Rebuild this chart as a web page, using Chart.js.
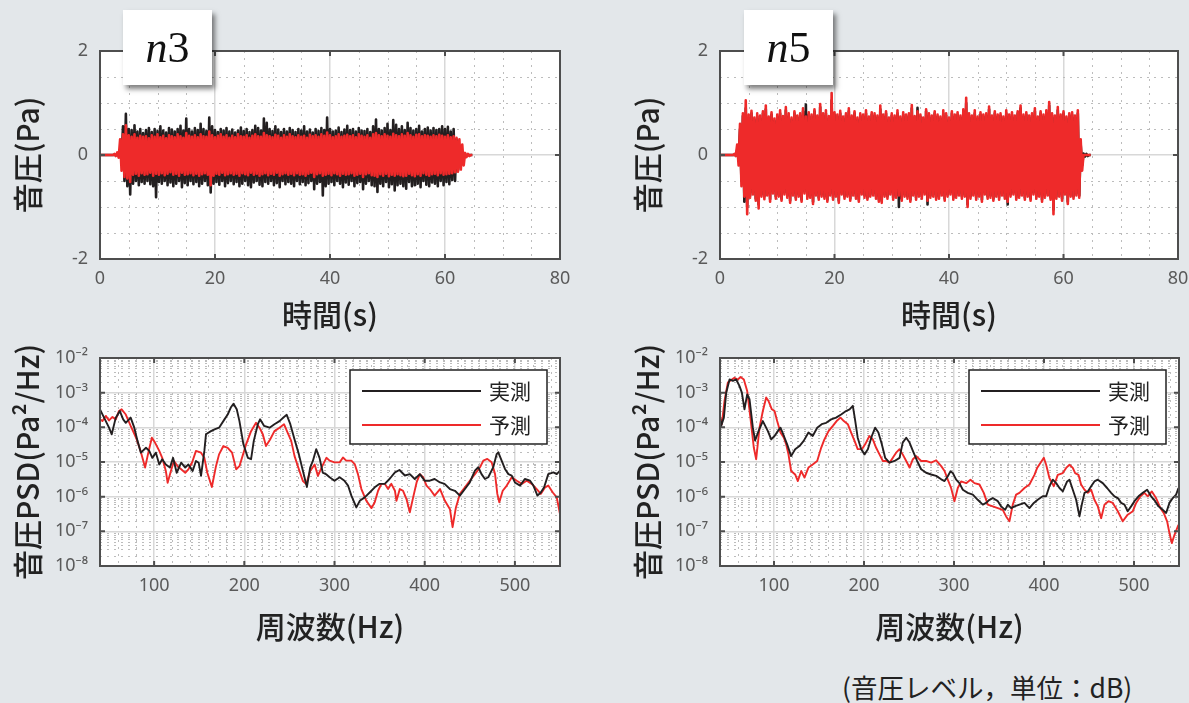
<!DOCTYPE html>
<html lang="ja">
<head>
<meta charset="utf-8">
<script src="https://cdn.jsdelivr.net/npm/chart.js@4.4.1/dist/chart.umd.min.js"></script>
<style>
  body { margin: 0; width: 1189px; height: 703px; background: #e3e7ea; position: relative; overflow: hidden; font-family: 'Noto Sans CJK JP', sans-serif; }
  canvas { position: absolute; }
  .tag { position: absolute; top: 10px; width: 89px; height: 75px; background: #fff; box-shadow: 3px 4px 5px rgba(0,0,0,0.5); font: 44px 'Liberation Serif', serif; text-align: center; line-height: 75px; color: #111; }
  .note { position: absolute; left: 842px; top: 667px; font-size: 26.5px; color: #222; }
</style>
</head>
<body>
<canvas id="waveN3" width="590" height="345" style="left:0;top:0"></canvas>
<canvas id="waveN5" width="580" height="345" style="left:620px;top:0"></canvas>
<canvas id="psdN3" width="590" height="316" style="left:0;top:334px"></canvas>
<canvas id="psdN5" width="569" height="316" style="left:620px;top:334px"></canvas>
<div class="tag" style="left:123px"><i>n</i>3</div>
<div class="tag" style="left:744px"><i>n</i>5</div>
<div class="note">(音圧レベル，単位：dB)</div>
<script>
// envelope of the pressure trace (upper / lower peaks), one value every DT seconds starting at T0
const T0 = 0, DT = 0.5;

const n3MeasUpper = [0,0,0,0,0,0,
  0,0.1,0.55,0.79,0.5,0.48,0.57,0.45,0.5,0.42,
  0.48,0.52,0.44,0.5,0.46,0.55,0.47,0.43,0.52,0.49,
  0.45,0.5,0.56,0.47,0.7,0.5,0.45,0.52,0.48,0.6,
  0.5,0.46,0.72,0.55,0.48,0.44,0.5,0.47,0.52,0.45,
  0.49,0.43,0.47,0.53,0.46,0.5,0.44,0.48,0.56,0.52,
  0.47,0.7,0.62,0.5,0.46,0.55,0.49,0.44,0.5,0.45,
  0.52,0.48,0.44,0.5,0.47,0.55,0.45,0.49,0.43,0.5,
  0.46,0.52,0.48,0.72,0.5,0.45,0.47,0.53,0.44,0.49,
  0.56,0.48,0.5,0.45,0.52,0.47,0.46,0.5,0.44,0.55,
  0.68,0.5,0.47,0.52,0.6,0.48,0.67,0.58,0.5,0.55,
  0.48,0.62,0.52,0.47,0.5,0.56,0.45,0.5,0.53,0.47,
  0.52,0.48,0.5,0.55,0.5,0.54,0.45,0.5,0.3,0,
  0,0,0,0];
const n3MeasLower = [0,0,0,0,0,0,
  0,-0.1,-0.5,-0.6,-0.76,-0.55,-0.5,-0.58,-0.52,-0.55,
  -0.5,-0.56,-0.6,-0.81,-0.52,-0.55,-0.5,-0.58,-0.53,-0.6,
  -0.55,-0.5,-0.62,-0.54,-0.58,-0.5,-0.56,-0.52,-0.6,-0.55,
  -0.5,-0.58,-0.72,-0.55,-0.52,-0.57,-0.5,-0.6,-0.54,-0.5,
  -0.56,-0.52,-0.6,-0.55,-0.5,-0.58,-0.62,-0.53,-0.5,-0.57,
  -0.6,-0.52,-0.55,-0.5,-0.58,-0.54,-0.62,-0.5,-0.56,-0.52,
  -0.55,-0.6,-0.5,-0.56,-0.52,-0.58,-0.54,-0.5,-0.66,-0.55,
  -0.52,-0.78,-0.6,-0.55,-0.52,-0.58,-0.5,-0.55,-0.62,-0.53,
  -0.57,-0.5,-0.6,-0.54,-0.52,-0.66,-0.55,-0.5,-0.58,-0.6,
  -0.71,-0.55,-0.6,-0.52,-0.62,-0.56,-0.68,-0.58,-0.55,-0.6,
  -0.65,-0.52,-0.6,-0.58,-0.55,-0.62,-0.5,-0.57,-0.6,-0.53,
  -0.55,-0.6,-0.5,-0.58,-0.52,-0.56,-0.48,-0.5,-0.3,0,
  0,0,0,0];
const n3PredUpper = [0,0,0,0,0,0.02,
  0.05,0.3,0.4,0.57,0.38,0.35,0.4,0.33,0.37,0.35,
  0.36,0.32,0.38,0.35,0.4,0.34,0.37,0.32,0.38,0.36,
  0.34,0.4,0.36,0.33,0.42,0.37,0.35,0.38,0.34,0.4,
  0.36,0.35,0.45,0.38,0.34,0.37,0.4,0.35,0.38,0.33,
  0.37,0.34,0.4,0.36,0.35,0.38,0.33,0.37,0.4,0.36,
  0.35,0.42,0.38,0.36,0.34,0.39,0.37,0.33,0.38,0.35,
  0.4,0.36,0.34,0.38,0.35,0.37,0.33,0.39,0.36,0.38,
  0.35,0.4,0.37,0.43,0.38,0.34,0.36,0.4,0.35,0.37,
  0.39,0.36,0.38,0.34,0.4,0.37,0.35,0.38,0.33,0.4,
  0.42,0.38,0.36,0.4,0.37,0.35,0.41,0.38,0.36,0.4,
  0.37,0.42,0.38,0.35,0.39,0.4,0.36,0.38,0.37,0.35,
  0.38,0.36,0.39,0.37,0.35,0.38,0.34,0.36,0.33,0.3,
  0.2,0.04,0.02,0];
const n3PredLower = [0,0,0,0,0,-0.02,
  -0.05,-0.3,-0.42,-0.45,-0.52,-0.38,-0.36,-0.4,-0.35,-0.38,
  -0.37,-0.34,-0.4,-0.36,-0.38,-0.35,-0.39,-0.36,-0.33,-0.38,
  -0.36,-0.4,-0.34,-0.38,-0.37,-0.35,-0.39,-0.36,-0.4,-0.37,
  -0.35,-0.38,-0.58,-0.4,-0.36,-0.38,-0.34,-0.39,-0.37,-0.35,
  -0.38,-0.36,-0.4,-0.35,-0.37,-0.39,-0.34,-0.38,-0.36,-0.4,
  -0.37,-0.35,-0.39,-0.36,-0.38,-0.34,-0.4,-0.37,-0.35,-0.38,
  -0.36,-0.39,-0.35,-0.38,-0.37,-0.4,-0.36,-0.34,-0.42,-0.37,
  -0.35,-0.4,-0.38,-0.36,-0.39,-0.35,-0.37,-0.4,-0.36,-0.38,
  -0.37,-0.35,-0.4,-0.38,-0.36,-0.42,-0.37,-0.35,-0.39,-0.4,
  -0.42,-0.37,-0.4,-0.36,-0.41,-0.38,-0.4,-0.37,-0.39,-0.41,
  -0.4,-0.36,-0.39,-0.41,-0.37,-0.4,-0.35,-0.38,-0.4,-0.37,
  -0.36,-0.39,-0.35,-0.38,-0.37,-0.36,-0.35,-0.33,-0.32,-0.28,
  -0.2,-0.04,-0.02,0];

const n5MeasUpper = [0,0,0,0,0,0,
  0.1,0.5,0.75,0.9,0.7,0.8,0.68,0.74,0.7,0.8,
  0.88,0.7,0.78,0.66,0.74,0.8,0.7,0.86,0.74,0.68,
  0.8,0.72,0.76,0.84,0.97,0.78,0.74,0.84,0.72,0.92,
  0.76,0.8,0.7,1.05,0.78,0.74,0.8,0.7,0.76,0.84,
  0.72,0.8,0.68,0.76,0.74,0.8,0.7,0.78,0.76,0.72,
  0.88,0.74,0.8,0.68,0.76,0.72,0.8,0.7,0.78,0.74,
  0.76,0.9,0.72,0.91,0.74,0.68,0.84,0.76,0.72,0.8,
  0.74,0.7,0.8,0.76,0.68,0.8,0.74,0.78,0.72,0.84,
  1.0,0.76,0.72,0.8,0.7,0.78,0.74,0.76,0.88,0.72,
  0.8,0.74,0.76,0.7,0.8,0.74,0.78,0.72,0.8,0.9,
  0.74,0.78,0.72,0.76,0.84,0.7,0.8,0.74,0.8,0.95,
  0.76,0.72,0.86,0.74,0.8,0.7,0.76,0.78,0.72,0.8,
  0.2,0.03,0.02,0];
const n5MeasLower = [0,0,0,0,0,0,
  -0.1,-0.5,-0.9,-1.0,-0.78,-0.72,-0.84,-0.95,-0.76,-0.8,
  -0.74,-0.85,-0.7,-0.8,-0.76,-0.84,-0.72,-0.78,-0.88,-0.74,
  -0.82,-0.76,-0.86,-0.7,-0.8,-0.78,-0.9,-0.74,-0.82,-0.76,
  -0.8,-0.86,-0.74,-0.82,-0.76,-0.88,-0.72,-0.8,-0.76,-0.84,
  -0.74,-0.8,-0.86,-0.72,-0.78,-0.82,-0.76,-0.74,-0.8,-0.86,
  -0.88,-0.76,-0.8,-0.72,-0.82,-0.78,-1.0,-0.84,-0.76,-0.8,
  -0.86,-0.74,-0.82,-0.76,-0.8,-0.72,-0.95,-0.78,-0.76,-0.82,
  -0.8,-0.74,-0.84,-0.76,-0.72,-0.82,-0.78,-0.74,-0.8,-0.76,
  -0.95,-0.8,-0.74,-0.82,-0.76,-0.86,-0.72,-0.8,-0.78,-0.84,
  -0.76,-0.82,-0.74,-0.8,-0.95,-0.76,-0.72,-0.82,-0.78,-0.74,
  -0.82,-0.76,-0.84,-0.72,-0.8,-0.76,-0.86,-0.78,-0.74,-0.82,
  -1.05,-0.8,-0.76,-0.84,-0.72,-0.9,-0.76,-0.8,-0.74,-0.78,
  -0.2,-0.03,-0.02,0];
const n5PredUpper = [0,0,0,0,0,0.02,
  0.2,0.6,0.8,1.05,0.78,0.85,0.72,0.8,0.76,0.84,
  0.95,0.74,0.82,0.7,0.78,0.86,0.75,0.92,0.8,0.72,
  0.84,0.76,0.8,0.9,0.74,0.82,0.78,0.88,0.76,0.98,
  0.8,0.86,0.75,1.19,0.82,0.78,0.85,0.74,0.8,0.9,
  0.76,0.84,0.72,0.8,0.78,0.86,0.74,0.82,0.8,0.76,
  0.95,0.78,0.84,0.72,0.8,0.76,0.86,0.74,0.82,0.78,
  0.8,0.96,0.75,0.84,0.78,0.72,0.88,0.8,0.76,0.84,
  0.78,0.74,0.86,0.8,0.72,0.84,0.78,0.82,0.76,0.88,
  1.1,0.8,0.76,0.86,0.74,0.82,0.78,0.8,0.93,0.76,
  0.84,0.78,0.8,0.74,0.86,0.78,0.82,0.76,0.84,0.95,
  0.78,0.82,0.76,0.8,0.9,0.74,0.84,0.78,0.86,1.02,
  0.8,0.76,0.92,0.78,0.84,0.74,0.8,0.82,0.76,0.86,
  0.3,0,0,0];
const n5PredLower = [0,0,0,0,0,-0.02,
  -0.2,-0.6,-0.8,-1.14,-0.82,-0.76,-0.88,-1.03,-0.8,-0.85,
  -0.78,-0.9,-0.74,-0.84,-0.8,-0.88,-0.76,-0.82,-0.92,-0.78,
  -0.86,-0.8,-0.9,-0.74,-0.84,-0.82,-0.94,-0.78,-0.86,-0.8,
  -0.84,-0.9,-0.78,-0.86,-0.8,-0.92,-0.76,-0.84,-0.8,-0.88,
  -0.78,-0.84,-0.9,-0.76,-0.82,-0.86,-0.8,-0.78,-0.84,-0.9,
  -0.92,-0.8,-0.84,-0.76,-0.86,-0.82,-0.78,-0.88,-0.8,-0.84,
  -0.9,-0.78,-0.86,-0.8,-0.84,-0.76,-0.88,-0.82,-0.8,-0.86,
  -0.84,-0.78,-0.88,-0.8,-0.76,-0.86,-0.82,-0.78,-0.84,-0.8,
  -1.0,-0.84,-0.78,-0.86,-0.8,-0.9,-0.76,-0.84,-0.82,-0.88,
  -0.8,-0.86,-0.78,-0.84,-0.9,-0.8,-0.76,-0.86,-0.82,-0.78,
  -0.86,-0.8,-0.88,-0.76,-0.84,-0.8,-0.9,-0.82,-0.78,-0.86,
  -1.14,-0.84,-0.8,-0.88,-0.76,-0.94,-0.8,-0.84,-0.78,-0.82,
  -0.3,0,0,0];

// PSD curves: [frequency Hz, log10 PSD (Pa^2/Hz)]
const n3PsdMeas = [[40,-3.48],[44.5,-3.72],[50,-4.01],[53,-4.2],[57.5,-3.72],[62,-3.53],[65.7,-3.77],[68.6,-3.87],[74,-3.72],[78,-4.01],
  [81.6,-4.39],[85.3,-4.73],[91,-4.59],[94.6,-4.68],[98,-4.88],[102,-4.73],[105.7,-5.07],[109,-4.92],[113,-5.07],[117.5,-5.16],
  [121,-4.88],[125,-5.31],[130,-5.02],[134.5,-5.16],[138,-5.07],[142.7,-5.26],[146.4,-4.97],[149.4,-5.02],[152,-5.4],[155.7,-4.68],
  [157.5,-4.2],[163,-4.11],[167,-4.06],[172,-4.01],[178,-3.77],[181.6,-3.63],[185,-3.43],[188,-3.32],[191.6,-3.48],[194.6,-3.82],
  [199,-4.49],[204,-4.88],[207.5,-4.92],[210.5,-4.39],[215,-3.91],[217.5,-3.77],[222,-3.96],[228,-4.01],[233.4,-3.91],[239,-3.82],
  [244,-3.7],[247,-3.64],[251,-3.91],[255.7,-4.35],[260.5,-4.78],[265,-5.26],[269.4,-5.72],[273,-5.16],[276,-4.97],[279.7,-4.63],
  [283.4,-4.88],[287,-5.31],[291,-5.36],[294.6,-5.44],[300,-5.54],[305.7,-5.44],[311,-5.54],[315,-5.68],[318.7,-5.97],[324.2,-6.31],
  [328,-6.12],[333.5,-6.02],[339,-5.88],[344.6,-5.73],[350,-5.63],[355.7,-5.63],[361,-5.49],[367,-5.3],[372,-5.23],[378,-5.39],
  [383.5,-5.35],[389,-5.49],[394.6,-5.35],[400,-5.54],[405.7,-5.54],[411,-5.49],[417,-5.59],[422,-5.63],[428,-5.78],[433.5,-5.83],
  [439,-5.97],[444.6,-5.78],[450,-5.59],[455.7,-5.25],[459.4,-5.15],[463,-5.35],[466.8,-5.49],[470.5,-5.44],[476,-5.15],[479.8,-4.77],
  [481.6,-4.72],[485.3,-4.96],[489,-5.2],[492.8,-5.35],[496.5,-5.39],[500,-5.59],[505.7,-5.68],[511,-5.49],[516.8,-5.54],[520.5,-5.68],
  [525,-5.97],[528.7,-5.88],[532.4,-5.73],[537,-5.35],[542.7,-5.3],[546.4,-5.35],[550,-5.25]];
const n3PsdPred = [[40,-3.77],[42.7,-3.82],[46.4,-3.67],[50,-3.8],[53.8,-3.7],[57.5,-3.77],[61,-3.53],[64,-3.48],[68.6,-3.63],[74,-3.96],
  [80,-4.3],[85,-4.68],[90,-5.16],[94,-4.68],[97.5,-4.3],[101,-4.44],[105.7,-4.68],[109,-4.88],[113,-5.26],[115,-5.6],
  [118.6,-5.26],[122,-4.97],[126,-5.12],[130,-5.21],[134.5,-5.31],[138,-5.21],[142,-5.02],[146.4,-4.68],[152,-4.73],[155.7,-4.88],
  [159,-5.31],[164,-5.72],[168.6,-5.12],[172,-4.78],[176.8,-4.54],[181.6,-4.59],[186.4,-4.73],[191,-5.21],[194.6,-5.12],[198,-4.83],
  [202,-4.49],[207.5,-4.11],[213,-3.87],[216.8,-4.01],[220.5,-4.2],[224,-4.54],[228.6,-4.35],[233.4,-4.11],[239,-4.01],[244,-3.91],
  [248,-4.15],[252,-4.39],[255.7,-4.83],[260.5,-5.21],[265,-5.55],[268.6,-5.64],[273,-5.26],[278,-5.07],[281.6,-5.4],[286.4,-5.12],
  [291,-4.88],[294.6,-4.96],[300,-5.01],[305.7,-5.01],[309.4,-4.87],[313,-4.96],[318.7,-4.96],[322.4,-5.06],[326,-5.35],[329.8,-5.78],
  [335.3,-6.12],[341,-6.33],[344.6,-6.16],[348.3,-5.83],[352,-5.63],[355.7,-5.63],[359.4,-5.78],[363,-5.63],[367,-5.83],[368.7,-6.12],
  [372.4,-5.78],[376,-5.83],[379.8,-6.07],[383.5,-6.45],[387.2,-6.02],[391,-5.59],[394.6,-5.35],[398.3,-5.44],[402,-5.68],[405.7,-5.78],
  [411,-5.97],[417,-5.78],[422.4,-6.12],[428,-6.36],[430.9,-6.88],[434.6,-6.31],[439,-5.92],[444.6,-5.73],[450,-5.54],[455.7,-5.35],
  [461.3,-5.15],[465,-4.96],[469.4,-4.91],[474.2,-5.01],[478,-5.35],[480.5,-5.92],[482.7,-6.16],[486.5,-5.83],[491,-5.68],[496.5,-5.44],
  [502,-5.54],[507.6,-5.63],[513,-5.54],[518.7,-5.63],[524.2,-5.78],[528.7,-5.92],[533.5,-5.73],[537,-5.68],[542,-5.88],[546.4,-6.02],[550,-6.5]];
const n5PsdMeas = [[40,-3.67],[41.3,-3.96],[44.3,-3.72],[46.9,-3.0],[50.6,-2.62],[54.3,-2.66],[58,-2.62],[61.7,-2.81],[64.3,-3.0],[67.2,-3.48],
  [70.2,-3.05],[72.8,-3.19],[76.5,-4.01],[79,-4.38],[82.8,-4.11],[87.6,-3.82],[93.2,-4.11],[96.9,-4.35],[100.6,-4.25],[104.3,-4.11],
  [107.2,-4.01],[111,-4.25],[114.6,-4.49],[119,-4.83],[123.5,-4.63],[128.3,-4.54],[133,-4.39],[138.3,-4.15],[143,-4.25],[148,-4.01],
  [153,-3.91],[158,-3.87],[163.5,-3.77],[169,-3.72],[174.6,-3.63],[180,-3.53],[184,-3.48],[187.6,-3.38],[190,-3.77],[193,-4.3],
  [196.9,-4.63],[200.6,-4.78],[204.3,-4.63],[208.7,-4.25],[212.4,-4.01],[216,-4.15],[219.8,-4.49],[223.5,-4.88],[228.3,-5.02],[234,-4.97],
  [239.5,-4.88],[243,-4.44],[246.9,-4.3],[250.6,-4.44],[254.3,-4.68],[259,-4.97],[263.5,-5.21],[269,-5.31],[274.6,-5.36],[280.2,-5.4],
  [285.8,-5.5],[289.5,-5.55],[293.1,-5.41],[296,-5.27],[298.7,-5.32],[302.4,-5.51],[306,-5.61],[309.8,-5.8],[315.3,-5.89],[320.9,-5.94],
  [326.4,-6.09],[332,-6.23],[335.7,-6.18],[339.4,-6.09],[343.1,-6.04],[348.7,-6.13],[352.4,-6.28],[356.8,-6.38],[359.8,-6.23],[363.5,-6.33],
  [367.2,-6.28],[372.7,-6.23],[378.3,-6.18],[383.8,-6.33],[388.7,-6.18],[393,-6.09],[398.6,-5.99],[402.4,-5.99],[406,-5.7],[409.8,-5.51],
  [413.5,-5.61],[417.2,-5.75],[420.9,-5.85],[425.7,-5.56],[428.3,-5.51],[432,-5.8],[435.7,-6.09],[439.4,-6.57],[442,-6.23],[445,-5.89],
  [448.7,-5.85],[452.4,-5.7],[456,-5.56],[459.8,-5.51],[465.3,-5.61],[470.1,-5.75],[474.6,-5.89],[478.3,-5.99],[482,-6.04],[485.7,-6.18],
  [489.4,-6.23],[493,-6.42],[496.8,-6.28],[500.5,-6.13],[505,-5.99],[509.8,-5.89],[514.6,-5.8],[519,-5.99],[523.5,-6.13],[527.2,-6.28],
  [532,-6.38],[535.7,-6.47],[539.4,-6.18],[543.1,-6.04],[546.8,-5.94],[549.4,-5.75]];
const n5PsdPred = [[40,-3.72],[42,-3.91],[45,-3.24],[48.7,-2.71],[53.2,-2.62],[56,-2.57],[59.8,-2.62],[62.8,-2.55],[66.5,-2.62],[70.2,-2.95],
  [74,-3.77],[77.6,-4.59],[80.2,-4.92],[83.9,-4.01],[87.6,-3.53],[91.3,-3.14],[93.9,-3.24],[97.6,-3.48],[100.6,-3.53],[103.5,-3.82],
  [107.2,-4.15],[111,-4.3],[113.5,-4.49],[116.1,-4.78],[119,-5.26],[123.5,-5.36],[126.5,-5.55],[130.2,-5.26],[133.9,-5.45],[138.3,-5.16],
  [143,-5.07],[148,-4.97],[152.4,-4.59],[156,-4.35],[160.6,-4.11],[165.4,-3.96],[170.2,-3.8],[173.9,-3.72],[177.6,-3.82],[182,-3.91],
  [185.7,-4.15],[189.5,-4.39],[193,-4.63],[197.6,-4.63],[201.3,-4.49],[206,-4.25],[209.8,-4.35],[213.5,-4.59],[217.2,-4.78],[221,-4.97],
  [224.6,-4.97],[228.3,-5.02],[232,-4.88],[235.7,-4.73],[239.5,-4.63],[243,-4.78],[246.9,-4.97],[250.6,-5.16],[254.3,-4.92],[258,-4.83],
  [263.5,-4.97],[269,-4.97],[274.6,-5.02],[280.2,-4.95],[285.8,-5.12],[289.5,-5.26],[293.1,-5.51],[296.8,-5.75],[300.5,-6.13],[304.2,-5.75],
  [307.9,-5.56],[313.5,-5.61],[318.3,-5.51],[322.7,-5.61],[328.3,-5.65],[333.1,-5.89],[337.5,-6.23],[343.1,-6.28],[348.7,-6.33],[354.2,-6.38],
  [357.9,-6.57],[361.6,-6.71],[365.3,-6.23],[369,-5.94],[372.7,-5.89],[378.3,-5.75],[383.8,-5.65],[389.4,-5.37],[392.4,-5.17],[396,-5.03],
  [399.8,-4.88],[402.4,-5.08],[406,-5.46],[410.9,-5.7],[415.3,-5.37],[420.9,-5.32],[424.6,-5.17],[428.3,-5.08],[432,-5.17],[434.6,-5.32],
  [438.3,-5.37],[441.2,-5.65],[445,-5.8],[448.7,-5.89],[452.4,-5.8],[456,-6.09],[459.8,-6.28],[463.5,-6.62],[467.2,-6.23],[471.6,-6.13],
  [476.4,-6.18],[482,-6.42],[487.5,-6.71],[493,-6.52],[498.7,-6.42],[502.4,-6.18],[507.2,-5.99],[511.6,-5.89],[515.3,-5.99],[519.8,-5.85],
  [524.5,-6.04],[529.4,-6.33],[533,-6.47],[536.8,-6.71],[539.4,-7.05],[542,-7.34],[545,-7.1],[549.4,-6.81]];

const seriesLabels = ['実測', '予測'];
const timeTicks = [0, 20, 40, 60, 80];
const timeMinor = [5, 10, 15, 25, 30, 35, 45, 50, 55, 65, 70, 75];
const pressureTicks = [-2, 0, 2];
const pressureMinor = [-1.5, -1, -0.5, 0.5, 1, 1.5];
const freqTicks = [100, 200, 300, 400, 500];
const freqMinor = [60, 80, 120, 140, 160, 180, 220, 240, 260, 280, 320, 340, 360, 380, 420, 440, 460, 480, 520, 540];
const psdDecades = [-8, -7, -6, -5, -4, -3, -2];

const BLACK = '#231f20', RED = '#ee2a2a';
const TICK_FONT = { family: "'Liberation Sans Narrow', 'Noto Sans', sans-serif", size: 18 };
const TITLE_FONT = { family: "'Noto Sans CJK JP', sans-serif", size: 30, weight: '500' };

const psdMinor = [];
psdDecades.slice(0, -1).forEach(e => { for (let k = 2; k <= 9; k++) psdMinor.push(k * Math.pow(10, e)); });

const SUP = { '-': '⁻', '0': '⁰', '1': '¹', '2': '²', '3': '³', '4': '⁴', '5': '⁵', '6': '⁶', '7': '⁷', '8': '⁸', '9': '⁹' };
const powLabel = v => '10' + String(Math.round(Math.log10(v))).split('').map(c => SUP[c]).join('');

// trace drawn as a zigzag between the upper and lower peak of each sample
function toWave(up, lo) {
  const pts = [];
  up.forEach((v, i) => {
    pts.push({ x: T0 + i * DT, y: v });
    pts.push({ x: T0 + i * DT + DT / 2, y: lo[i] });
  });
  return pts;
}
const toPsd = arr => arr.map(p => ({ x: p[0], y: Math.pow(10, p[1]) }));

// white plot box, dotted minor grid, dark frame with inward ticks
const framePlugin = {
  id: 'frame',
  beforeDraw(chart) {
    const { ctx, chartArea: a } = chart;
    ctx.save();
    ctx.fillStyle = '#fff';
    ctx.fillRect(a.left, a.top, a.width, a.height);
    ctx.restore();
  },
  beforeDatasetsDraw(chart, args, opts) {
    const { ctx, chartArea: a, scales: { x, y } } = chart;
    ctx.save();
    ctx.strokeStyle = '#bcbcbc';
    ctx.lineWidth = 1;
    ctx.setLineDash([2, 5]);
    ctx.beginPath();
    opts.xMinor.forEach(v => {
      const px = Math.round(x.getPixelForValue(v)) + 0.5;
      ctx.moveTo(px, a.top); ctx.lineTo(px, a.bottom);
    });
    opts.yMinor.forEach(v => {
      const py = Math.round(y.getPixelForValue(v)) + 0.5;
      ctx.moveTo(a.left, py); ctx.lineTo(a.right, py);
    });
    ctx.stroke();
    ctx.restore();
  },
  afterDraw(chart) {
    const { ctx, chartArea: a, scales: { x, y } } = chart;
    ctx.save();
    ctx.strokeStyle = '#4e4e4e';
    ctx.lineWidth = 2;
    ctx.beginPath();
    x.ticks.forEach(t => {
      const px = x.getPixelForValue(t.value);
      ctx.moveTo(px, a.bottom); ctx.lineTo(px, a.bottom - 5);
      ctx.moveTo(px, a.top); ctx.lineTo(px, a.top + 5);
    });
    y.ticks.forEach(t => {
      const py = y.getPixelForValue(t.value);
      ctx.moveTo(a.left, py); ctx.lineTo(a.left + 5, py);
      ctx.moveTo(a.right, py); ctx.lineTo(a.right - 5, py);
    });
    ctx.stroke();
    ctx.strokeRect(a.left, a.top, a.width, a.height);
    ctx.restore();
  }
};

// legend drawn inside the plot, top right
const boxLegendPlugin = {
  id: 'boxLegend',
  afterDraw(chart, args, opts) {
    if (!opts.show) return;
    const { ctx, chartArea: a } = chart;
    const bx = a.right - 210, by = a.top + 12, bw = 197, bh = 74;
    ctx.save();
    ctx.fillStyle = '#fff';
    ctx.fillRect(bx, by, bw, bh);
    ctx.strokeStyle = '#222';
    ctx.lineWidth = 1.5;
    ctx.strokeRect(bx, by, bw, bh);
    ctx.font = "21px 'Noto Sans CJK JP', sans-serif";
    ctx.textBaseline = 'middle';
    chart.data.datasets.forEach((ds, i) => {
      const ly = by + 21 + i * 34;
      ctx.strokeStyle = ds.borderColor;
      ctx.lineWidth = 2;
      ctx.beginPath();
      ctx.moveTo(bx + 12, ly); ctx.lineTo(bx + 131, ly);
      ctx.stroke();
      ctx.fillStyle = '#222';
      ctx.fillText(ds.label, bx + 139, ly);
    });
    ctx.restore();
  }
};

function makeChart(id, cfg) {
  const isWave = cfg.kind === 'wave';
  return new Chart(document.getElementById(id), {
    type: 'line',
    data: { datasets: cfg.datasets },
    plugins: [framePlugin, boxLegendPlugin],
    options: {
      responsive: false,
      animation: false,
      events: [],
      layout: { padding: cfg.padding },
      elements: { point: { radius: 0 }, line: { tension: 0 } },
      plugins: {
        legend: { display: false },
        tooltip: { enabled: false },
        frame: isWave ? { xMinor: timeMinor, yMinor: pressureMinor } : { xMinor: freqMinor, yMinor: psdMinor },
        boxLegend: { show: !isWave }
      },
      scales: {
        x: {
          type: 'linear',
          min: isWave ? 0 : 40,
          max: isWave ? 80 : 550,
          afterBuildTicks: s => { s.ticks = (isWave ? timeTicks : freqTicks).map(v => ({ value: v })); },
          afterFit: s => { s.height = cfg.xHeight; },
          grid: { color: '#d8d8d8', lineWidth: 1.5, drawTicks: false },
          border: { display: false },
          ticks: { font: TICK_FONT, color: '#5a5a5a', padding: 9, maxRotation: 0 },
          title: { display: true, text: isWave ? '時間(s)' : '周波数(Hz)', font: TITLE_FONT, color: '#222', padding: { top: 0, bottom: cfg.xTitlePad } }
        },
        y: {
          type: isWave ? 'linear' : 'logarithmic',
          min: isWave ? -2 : 1e-8,
          max: isWave ? 2 : 1e-2,
          afterBuildTicks: s => {
            s.ticks = isWave ? pressureTicks.map(v => ({ value: v })) : psdDecades.map(e => ({ value: Math.pow(10, e) }));
          },
          afterFit: s => { s.width = 100; },
          grid: { color: '#d8d8d8', lineWidth: 1.5, drawTicks: false },
          border: { display: false },
          ticks: {
            font: TICK_FONT, color: '#5a5a5a', padding: 12,
            callback: v => isWave ? String(v) : powLabel(v)
          },
          title: { display: true, text: isWave ? '音圧(Pa)' : '音圧PSD(Pa²/Hz)', font: TITLE_FONT, color: '#222', padding: { top: 10, bottom: 0 } }
        }
      }
    }
  });
}

function waveSets(measUp, measLo, predUp, predLo) {
  const trace = (label, up, lo, color) => ({
    label: label, data: toWave(up, lo), borderColor: color, borderWidth: 2.6, borderJoinStyle: 'round', fill: false
  });
  // first dataset is drawn on top: predicted (red) above measured (black)
  return [trace(seriesLabels[1], predUp, predLo, RED), trace(seriesLabels[0], measUp, measLo, BLACK)];
}

function psdSets(meas, pred) {
  return [
    { label: seriesLabels[0], data: toPsd(meas), borderColor: BLACK, borderWidth: 1.9, borderJoinStyle: 'round', fill: false },
    { label: seriesLabels[1], data: toPsd(pred), borderColor: RED, borderWidth: 1.9, borderJoinStyle: 'round', fill: false }
  ];
}

makeChart('waveN3', { kind: 'wave', datasets: waveSets(n3MeasUpper, n3MeasLower, n3PredUpper, n3PredLower),
  padding: { top: 51, right: 30, left: 0, bottom: 0 }, xHeight: 86, xTitlePad: 12 });
makeChart('waveN5', { kind: 'wave', datasets: waveSets(n5MeasUpper, n5MeasLower, n5PredUpper, n5PredLower),
  padding: { top: 51, right: 22, left: 0, bottom: 0 }, xHeight: 86, xTitlePad: 12 });
makeChart('psdN3', { kind: 'psd', datasets: psdSets(n3PsdMeas, n3PsdPred),
  padding: { top: 24, right: 30, left: 0, bottom: 0 }, xHeight: 84, xTitlePad: 5 });
makeChart('psdN5', { kind: 'psd', datasets: psdSets(n5PsdMeas, n5PsdPred),
  padding: { top: 24, right: 10, left: 0, bottom: 0 }, xHeight: 84, xTitlePad: 5 });
</script>
</body>
</html>
